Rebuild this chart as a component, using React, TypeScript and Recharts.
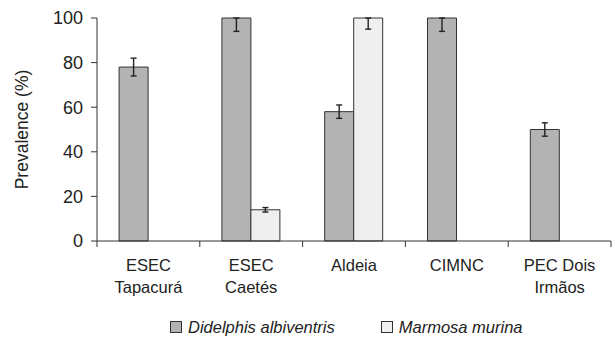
import { BarChart, Bar, XAxis, YAxis, ErrorBar, Legend, Label } from 'recharts';

const categories = ['ESEC\nTapacurá', 'ESEC\nCaetés', 'Aldeia', 'CIMNC', 'PEC Dois\nIrmãos'];
const didelphis = [78, 100, 58, 100, 50];
const didelphisErr = [[4, 4], [6, 0], [3, 3], [6, 0], [3, 3]];
const marmosa = [null, 14, 100, null, null];
const marmosaErr = [null, [1, 1], [5, 0], null, null];
const yTicks = [0, 20, 40, 60, 80, 100];

const seriesNames = { didelphis: 'Didelphis albiventris', marmosa: 'Marmosa murina' };
const DARK = '#b3b3b3';
const LIGHT = '#efefef';
const INK = '#222';

const data = categories.map((name, i) => ({
  name,
  didelphis: didelphis[i],
  didelphisErr: didelphisErr[i],
  marmosa: marmosa[i],
  marmosaErr: marmosaErr[i],
}));

// category label in one or two lines, plus tick marks at the band edges
function CategoryTick(props: any) {
  const { x, y, payload, index, visibleTicksCount } = props;
  const half = payload.offset ?? 0;
  const lines = String(payload.value).split('\n');
  return (
    <g>
      <line x1={x - half} y1={y} x2={x - half} y2={y + 6} stroke="#333" />
      {index === visibleTicksCount - 1 && (
        <line x1={x + half} y1={y} x2={x + half} y2={y + 6} stroke="#333" />
      )}
      <text x={x} y={y + 30} textAnchor="middle" fill={INK} fontSize={16.5}>
        {lines.map((l, i) => (
          <tspan key={i} x={x} dy={i === 0 ? 0 : 22}>
            {l}
          </tspan>
        ))}
      </text>
    </g>
  );
}

function LegendBox() {
  const items = [
    { label: seriesNames.didelphis, color: DARK },
    { label: seriesNames.marmosa, color: LIGHT },
  ];
  return (
    <div style={{ display: 'flex', paddingLeft: 170, height: 22, alignItems: 'center' }}>
      {items.map((it, i) => (
        <div key={i} style={{ display: 'flex', alignItems: 'center', marginRight: 46 }}>
          <span
            style={{
              display: 'inline-block',
              width: 10,
              height: 10,
              background: it.color,
              border: '1px solid #333',
              marginRight: 6,
            }}
          />
          <span style={{ fontStyle: 'italic', fontSize: 16.5, color: INK, lineHeight: '22px' }}>{it.label}</span>
        </div>
      ))}
    </div>
  );
}

export default function App() {
  return (
    <div
      style={{
        position: 'absolute',
        left: 0,
        top: 0,
        width: 615,
        height: 338,
        background: '#fff',
        fontFamily: "'Liberation Sans', Arial, sans-serif",
      }}
    >
      <BarChart
        width={615}
        height={338}
        data={data}
        margin={{ top: 18, right: 4, left: 0, bottom: 0 }}
        barCategoryGap="21.5%"
        barGap={0}
      >
        <XAxis
          dataKey="name"
          interval={0}
          tickLine={false}
          tickSize={0}
          tickMargin={0}
          height={75}
          axisLine={{ stroke: '#333' }}
          tick={<CategoryTick />}
        />
        <YAxis
          width={97}
          domain={[0, 100]}
          ticks={yTicks}
          tickSize={6}
          tickMargin={8}
          axisLine={{ stroke: '#333' }}
          tickLine={{ stroke: '#333' }}
          tick={{ fill: INK, fontSize: 18 }}
        >
          <Label
            content={(p: any) => {
              const vb = p.viewBox;
              const cx = vb.x + 22;
              const cy = vb.y + vb.height / 2;
              return (
                <text
                  x={cx}
                  y={cy}
                  transform={`rotate(-90 ${cx} ${cy})`}
                  textAnchor="middle"
                  dominantBaseline="central"
                  fill={INK}
                  fontSize={17.5}
                >
                  Prevalence (%)
                </text>
              );
            }}
          />
        </YAxis>
        <Legend verticalAlign="bottom" wrapperStyle={{ left: 0, width: 615 }} content={<LegendBox />} />
        <Bar dataKey="didelphis" name={seriesNames.didelphis} fill={DARK} stroke="#333" isAnimationActive={false}>
          <ErrorBar dataKey="didelphisErr" width={3} stroke={INK} strokeWidth={1.4} direction="y" />
        </Bar>
        <Bar dataKey="marmosa" name={seriesNames.marmosa} fill={LIGHT} stroke="#333" isAnimationActive={false}>
          <ErrorBar dataKey="marmosaErr" width={3} stroke={INK} strokeWidth={1.4} direction="y" />
        </Bar>
      </BarChart>
    </div>
  );
}
